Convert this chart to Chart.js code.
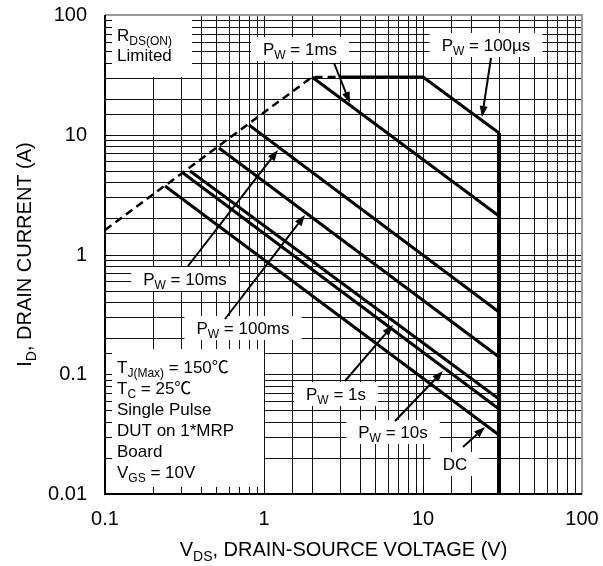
<!DOCTYPE html>
<html>
<head>
<meta charset="utf-8">
<script src="https://cdn.jsdelivr.net/npm/chart.js@4.4.0/dist/chart.umd.min.js"></script>
<style>
  body { margin: 0; background: #fff; }
  #wrap { width: 603px; height: 566px; }
</style>
</head>
<body>
<div id="wrap"><canvas id="soa"></canvas></div>
<script>
// V_DS (V) and I_D (A)
const rdsV = [0.1, 2, 3];
const rdsI = [1.6, 30.5, 30.5];
const us100V = [3, 10, 30];
const us100I = [30.5, 30.5, 10.4];
const bvdssV = [30, 30];
const bvdssI = [10.4, 0.01];
const ms1V = [2, 30];
const ms1I = [30.5, 2.08];
const ms10V = [0.81, 30];
const ms10I = [12, 0.33];
const ms100V = [0.52, 30];
const ms100I = [7.8, 0.14];
const s1V = [0.34, 30];
const s1I = [5.0, 0.062];
const s10V = [0.31, 30];
const s10I = [4.75, 0.051];
const dcV = [0.24, 30];
const dcI = [3.76, 0.031];

const xTicks = [0.1, 1, 10, 100];
const yTicks = [0.01, 0.1, 1, 10, 100];

// callouts: label centre, arrow tail, arrow head (data coords)
const notes = [
  { text: [['P'], ['W', 1], [' = 1ms']], at: [1.68, 52], from: [2.76, 39.8], to: [3.47, 18.5] },
  { text: [['P'], ['W', 1], [' = 100µs']], at: [24.9, 56], from: [26.8, 43.8], to: [23.5, 14.1] },
  { text: [['P'], ['W', 1], [' = 10ms']], at: [0.318, 0.62], from: [0.332, 0.794], to: [1.224, 7.5] },
  { text: [['P'], ['W', 1], [' = 100ms']], at: [0.738, 0.242], from: [0.568, 0.287], to: [1.811, 2.154] },
  { text: [['P'], ['W', 1], [' = 1s']], at: [2.84, 0.068], from: [3.23, 0.0874], to: [6.48, 0.256] },
  { text: [['P'], ['W', 1], [' = 10s']], at: [6.48, 0.0329], from: [6.67, 0.0406], to: [13.36, 0.1059] },
  { text: [['DC']], at: [15.9, 0.0178], from: [17.85, 0.0246], to: [24.55, 0.0362] }
];

const rdsBox = { x: [0.1, 0.352], y: [30.4, 100] };
const rdsText = [
  [['R'], ['DS(ON)', 1]],
  [['Limited']]
];
const condBox = { x: [0.1, 1.0], y: [0.01, 0.162] };
const condText = [
  [['T'], ['J(Max)', 1], [' = 150℃']],
  [['T'], ['C', 1], [' = 25℃']],
  [['Single Pulse']],
  [['DUT on 1*MRP']],
  [['Board']],
  [['V'], ['GS', 1], [' = 10V']]
];

const FONT = '"Liberation Sans", Arial, "Noto Sans CJK SC", sans-serif';

function pts(xs, ys) {
  return xs.map((v, i) => ({ x: v, y: ys[i] }));
}

function richWidth(ctx, parts, size) {
  let w = 0;
  parts.forEach(p => {
    ctx.font = (p[1] ? Math.round(size * 0.7) : size) + 'px ' + FONT;
    w += ctx.measureText(p[0]).width;
  });
  return w;
}

// y is the visual middle of the main text
function drawRich(ctx, parts, x, y, size, align) {
  let cx = align === 'left' ? x : x - richWidth(ctx, parts, size) / 2;
  const base = y + size * 0.36;
  ctx.textAlign = 'left';
  ctx.textBaseline = 'alphabetic';
  parts.forEach(p => {
    const sub = !!p[1];
    ctx.font = (sub ? Math.round(size * 0.7) : size) + 'px ' + FONT;
    ctx.fillText(p[0], cx, sub ? base + size * 0.25 : base);
    cx += ctx.measureText(p[0]).width;
  });
}

function arrow(ctx, x1, y1, x2, y2) {
  const ang = Math.atan2(y2 - y1, x2 - x1);
  const len = 11, hw = 4;
  const bx = x2 - len * Math.cos(ang), by = y2 - len * Math.sin(ang);
  ctx.beginPath();
  ctx.moveTo(x1, y1);
  ctx.lineTo(bx, by);
  ctx.stroke();
  ctx.beginPath();
  ctx.moveTo(x2, y2);
  ctx.lineTo(bx + hw * Math.sin(ang), by - hw * Math.cos(ang));
  ctx.lineTo(bx - hw * Math.sin(ang), by + hw * Math.cos(ang));
  ctx.closePath();
  ctx.fill();
}

const soaDecor = {
  id: 'soaDecor',
  beforeDatasetsDraw(chart) {
    const { ctx, chartArea: a, scales: { x, y } } = chart;
    ctx.save();
    ctx.fillStyle = '#fff';
    notes.forEach(n => {
      const w = richWidth(ctx, n.text, 17) + 24;
      const cx = x.getPixelForValue(n.at[0]), cy = y.getPixelForValue(n.at[1]);
      ctx.fillRect(cx - w / 2, cy - 12, w, 24);
    });
    [rdsBox, condBox].forEach(b => {
      const x0 = x.getPixelForValue(b.x[0]), x1 = x.getPixelForValue(b.x[1]);
      const y0 = y.getPixelForValue(b.y[1]), y1 = y.getPixelForValue(b.y[0]);
      ctx.fillRect(x0, y0, x1 - x0, y1 - y0);
    });
    // inward tick marks on left and bottom axes
    ctx.strokeStyle = '#000';
    ctx.lineWidth = 1;
    ctx.beginPath();
    y.ticks.forEach(t => {
      const py = Math.round(y.getPixelForValue(t.value)) + 0.5;
      ctx.moveTo(a.left, py); ctx.lineTo(a.left + 7, py);
    });
    x.ticks.forEach(t => {
      const pxv = Math.round(x.getPixelForValue(t.value)) + 0.5;
      ctx.moveTo(pxv, a.bottom); ctx.lineTo(pxv, a.bottom - 7);
    });
    ctx.stroke();
    // frame
    ctx.lineWidth = 2;
    ctx.strokeStyle = '#999';
    ctx.beginPath();
    ctx.moveTo(a.left, a.top); ctx.lineTo(a.right, a.top); ctx.lineTo(a.right, a.bottom);
    ctx.stroke();
    ctx.strokeStyle = '#000';
    ctx.beginPath();
    ctx.moveTo(a.left, a.top); ctx.lineTo(a.left, a.bottom); ctx.lineTo(a.right, a.bottom);
    ctx.stroke();
    ctx.restore();
  },
  afterDatasetsDraw(chart) {
    const { ctx, chartArea: a, scales: { x, y } } = chart;
    ctx.save();
    ctx.fillStyle = '#000';
    ctx.strokeStyle = '#000';
    ctx.lineWidth = 2;
    notes.forEach(n => {
      drawRich(ctx, n.text, x.getPixelForValue(n.at[0]), y.getPixelForValue(n.at[1]), 17, 'center');
      arrow(ctx, x.getPixelForValue(n.from[0]), y.getPixelForValue(n.from[1]),
        x.getPixelForValue(n.to[0]), y.getPixelForValue(n.to[1]));
    });
    rdsText.forEach((ln, i) => drawRich(ctx, ln, a.left + 12, a.top + 20 + i * 20, 17, 'left'));
    const ct = y.getPixelForValue(condBox.y[1]);
    condText.forEach((ln, i) => drawRich(ctx, ln, a.left + 12, ct + 18 + i * 21, 17, 'left'));
    ctx.restore();
  },
  afterDraw(chart) {
    const { ctx, chartArea: a } = chart;
    ctx.save();
    ctx.fillStyle = '#000';
    drawRich(ctx, [['V'], ['DS', 1], [', DRAIN-SOURCE VOLTAGE (V)']], (a.left + a.right) / 2, 549, 20, 'center');
    ctx.translate(24, (a.top + a.bottom) / 2);
    ctx.rotate(-Math.PI / 2);
    drawRich(ctx, [['I'], ['D', 1], [', DRAIN CURRENT (A)']], 0, 0, 20, 'center');
    ctx.restore();
  }
};

function decadeLabel(list) {
  return function (v) {
    const hit = list.find(t => Math.abs(Math.log10(v) - Math.log10(t)) < 1e-6);
    return hit === undefined ? '' : String(hit);
  };
}

const solid = (data, w) => ({ data, borderColor: '#000', borderWidth: w || 3, pointRadius: 0, showLine: true, fill: false });

new Chart(document.getElementById('soa'), {
  type: 'scatter',
  data: {
    datasets: [
      Object.assign(solid(pts(rdsV, rdsI), 2.5), { borderDash: [8, 5] }),
      solid(pts(us100V, us100I)),
      solid(pts(bvdssV, bvdssI), 4),
      solid(pts(ms1V, ms1I)),
      solid(pts(ms10V, ms10I)),
      solid(pts(ms100V, ms100I)),
      solid(pts(s1V, s1I)),
      solid(pts(s10V, s10I)),
      solid(pts(dcV, dcI))
    ]
  },
  options: {
    responsive: true,
    maintainAspectRatio: false,
    animation: false,
    layout: { padding: { top: 15, right: 21, left: 0, bottom: 0 } },
    plugins: { legend: { display: false }, tooltip: { enabled: false } },
    scales: {
      x: {
        type: 'logarithmic',
        min: 0.1,
        max: 100,
        alignToPixels: true,
        border: { display: false },
        grid: { color: '#111', lineWidth: 1, drawTicks: false },
        ticks: {
          callback: decadeLabel(xTicks),
          autoSkip: false, maxRotation: 0, padding: 13,
          color: '#000', font: { family: FONT, size: 20 }
        },
        afterFit(s) { s.height = 72; s.paddingLeft = 0; s.paddingRight = 0; }
      },
      y: {
        type: 'logarithmic',
        min: 0.01,
        max: 100,
        alignToPixels: true,
        border: { display: false },
        grid: { color: '#111', lineWidth: 1, drawTicks: false },
        ticks: {
          callback: decadeLabel(yTicks),
          autoSkip: false, padding: 18,
          color: '#000', font: { family: FONT, size: 20 }
        },
        afterFit(s) { s.width = 105; s.paddingTop = 0; s.paddingBottom = 0; }
      }
    }
  },
  plugins: [soaDecor]
});
</script>
</body>
</html>
